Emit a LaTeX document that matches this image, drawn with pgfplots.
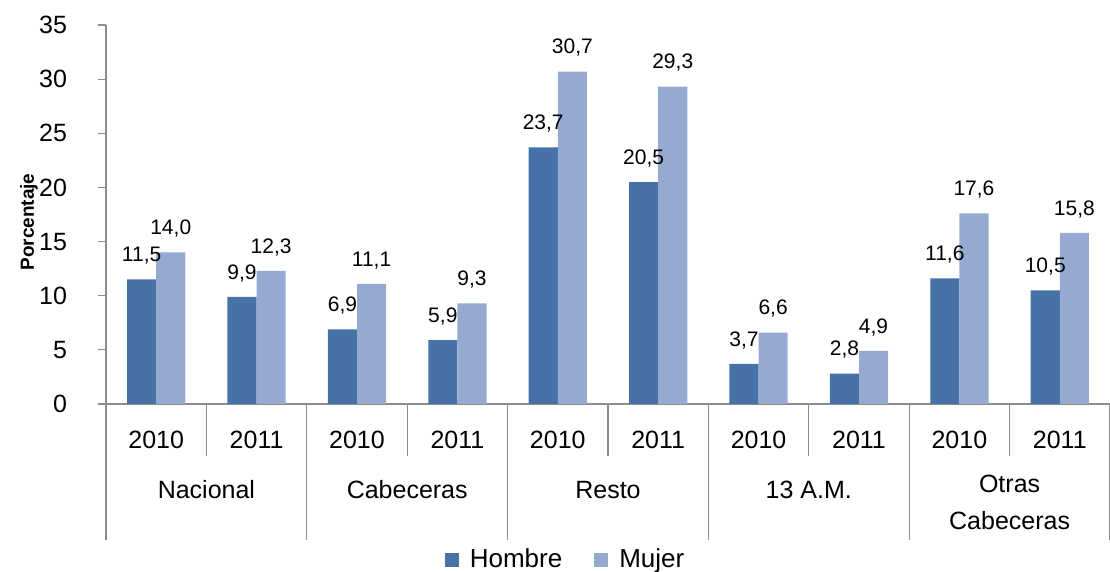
\documentclass[border=0pt]{standalone}
\usepackage{fontspec}
\setmainfont{Liberation Sans}
\usepackage{pgfplots}
\pgfplotsset{compat=1.18}
\definecolor{hombre}{HTML}{4672A8}
\definecolor{mujer}{HTML}{95A9D1}
\definecolor{axisgray}{HTML}{8C8C8C}

\begin{document}
\begin{tikzpicture}
\begin{axis}[
  scale only axis, width=502pt, height=189.5pt,
  ybar=0pt, bar width=0.29,
  xmin=-0.5, xmax=9.5, ymin=0, ymax=35,
  ytick={0,5,...,35},
  xtick={0,...,9},
  xticklabels={2010,2011,2010,2011,2010,2011,2010,2011,2010,2011},
  axis x line*=bottom, axis y line*=left,
  axis line style={axisgray, line width=0.6pt},
  tick align=outside,
  x tick style={draw=none},
  y tick style={axisgray, line width=0.6pt},
  major tick length=4pt,
  /pgf/number format/assume math mode=true,
  yticklabel style={font=\fontsize{12.5}{14}\selectfont, xshift=-12pt},
  xticklabel style={font=\fontsize{12.5}{14}\selectfont, yshift=-6pt},
  nodes near coords,
  nodes near coords style={font=\fontsize{10.5}{12}\selectfont, black, yshift=4pt,
    /pgf/number format/.cd, fixed, fixed zerofill, precision=1, use comma},
  legend style={draw=none, at={(rel axis cs:0.4587,0)}, yshift=-78pt, anchor=center,
    legend columns=2, font=\fontsize{13}{15}\selectfont,
    /tikz/every odd column/.append style={column sep=3.5pt},
    /tikz/every even column/.append style={column sep=14pt}},
  legend image code/.code={\fill[#1] (0pt,-3.6pt) rectangle (7pt,3.4pt);},
  clip=false,
]
\addplot[fill=hombre, draw=none] coordinates {
  (0,11.5) (1,9.9) (2,6.9) (3,5.9) (4,23.7) (5,20.5) (6,3.7) (7,2.8) (8,11.6) (9,10.5)};
\addplot[fill=mujer, draw=none] coordinates {
  (0,14.0) (1,12.3) (2,11.1) (3,9.3) (4,30.7) (5,29.3) (6,6.6) (7,4.9) (8,17.6) (9,15.8)};
\legend{Hombre, Mujer}

% separators between years and groups
\begin{scope}[axisgray, line width=0.6pt]
\draw (axis cs:0.5,0) -- ([yshift=-26pt]axis cs:0.5,0);
\draw (axis cs:2.5,0) -- ([yshift=-26pt]axis cs:2.5,0);
\draw (axis cs:4.5,0) -- ([yshift=-26pt]axis cs:4.5,0);
\draw (axis cs:6.5,0) -- ([yshift=-26pt]axis cs:6.5,0);
\draw (axis cs:8.5,0) -- ([yshift=-26pt]axis cs:8.5,0);
\draw (axis cs:-0.5,0) -- ([yshift=-68pt]axis cs:-0.5,0);
\draw (axis cs:1.5,0) -- ([yshift=-68pt]axis cs:1.5,0);
\draw (axis cs:3.5,0) -- ([yshift=-68pt]axis cs:3.5,0);
\draw (axis cs:5.5,0) -- ([yshift=-68pt]axis cs:5.5,0);
\draw (axis cs:7.5,0) -- ([yshift=-68pt]axis cs:7.5,0);
\draw (axis cs:9.5,0) -- ([yshift=-68pt]axis cs:9.5,0);
\end{scope}

% group labels
\begin{scope}[every node/.style={font=\fontsize{12.5}{18.5}\selectfont, align=center}]
\node at ([yshift=-43pt]axis cs:0.5,0) {Nacional};
\node at ([yshift=-43pt]axis cs:2.5,0) {Cabeceras};
\node at ([yshift=-43pt]axis cs:4.5,0) {Resto};
\node at ([yshift=-43pt]axis cs:6.5,0) {13 A.M.};
\node at ([yshift=-49pt]axis cs:8.5,0) {Otras\\Cabeceras};
\end{scope}
\node[rotate=90, font=\fontsize{9.5}{11}\selectfont\bfseries]
  at ([xshift=-38.5pt]rel axis cs:0,0.48) {Porcentaje};

\coordinate (bl) at ([xshift=-53pt,yshift=-84pt]rel axis cs:0,0);
\coordinate (tr) at ([yshift=12.5pt]rel axis cs:1,1);
\end{axis}
\pgfresetboundingbox
\useasboundingbox (bl) rectangle (tr);
\end{tikzpicture}
\end{document}
